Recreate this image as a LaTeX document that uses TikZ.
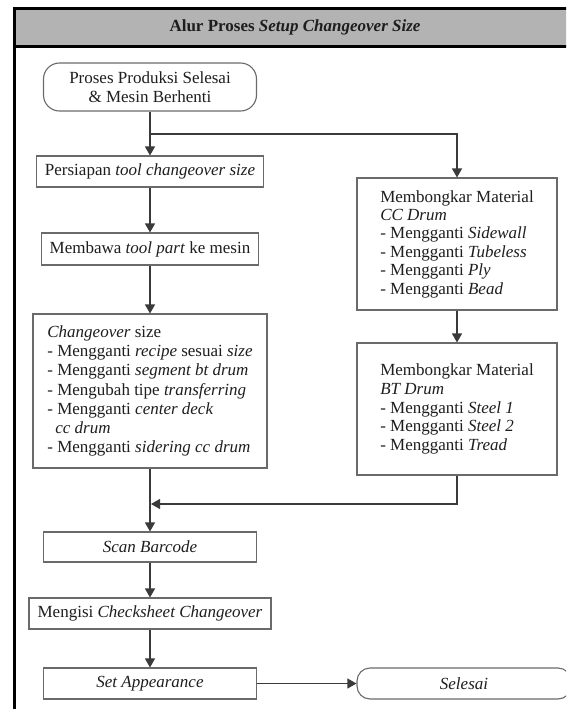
\documentclass[tikz,border=0pt]{standalone}
\usepackage{fontspec}
\setmainfont{Liberation Serif}
\usetikzlibrary{arrows.meta}
\definecolor{linec}{HTML}{3A3A3A}
\definecolor{boxc}{HTML}{6A6A6A}
\definecolor{headc}{HTML}{B3B3B3}
\definecolor{txtc}{HTML}{1E1E1E}
\tikzset{
  box/.style={draw=boxc,line width=1.1pt,fill=white,rectangle,inner xsep=8pt,inner ysep=0pt,
    text=txtc,font=\fontsize{17}{19.2}\selectfont},
  term/.style={box,rounded corners=16pt},
  flow/.style={draw=linec,line width=1.1pt,-{Triangle[length=9pt,width=10pt]}},
  link/.style={draw=linec,line width=1.1pt},
}
\begin{document}
\begin{tikzpicture}[x=1pt,y=-1pt]
\useasboundingbox (0,0) rectangle (566,709);
\clip (0,0) rectangle (566,709);
% frame and header
\fill[white] (0,0) rectangle (566,709);
\fill[headc] (14,9) rectangle (570,47);
\draw[black,line width=2.8pt] (14.5,8.7) -- (570,8.7);
\draw[black,line width=3pt] (14.5,47) -- (570,47);
\draw[black,line width=3pt] (14.5,7.3) -- (14.5,712);
\node[text=txtc,font=\fontsize{17}{19.2}\selectfont] (title) at (295,27)
  {\textbf{Alur Proses \textit{Setup Changeover Size}}};
% left column
\node[term,minimum width=213pt,minimum height=48pt,align=center] (start) at (150,87)
  {Proses Produksi Selesai\\\& Mesin Berhenti};
\node[box,minimum width=227pt,minimum height=31pt] (b1) at (150,171.5)
  {Persiapan \textit{tool changeover size}};
\node[box,minimum width=213pt,minimum height=32pt] (b2) at (150,249)
  {Membawa \textit{tool part} ke mesin};
\node[box,minimum width=234pt,minimum height=154pt,align=left] (b3) at (150,391)
  {\textit{Changeover} size\\
   - Mengganti \textit{recipe} sesuai \textit{size}\\
   - Mengganti \textit{segment bt drum}\\
   - Mengubah tipe \textit{transferring}\\
   - Mengganti \textit{center deck}\\
   \hspace*{8pt}\textit{cc drum}\\
   - Mengganti \textit{sidering cc drum}};
% right column
\node[box,minimum width=200pt,minimum height=132pt,align=left,
  font=\fontsize{17}{18.4}\selectfont] (r1) at (457,244)
  {Membongkar Material\\
   \textit{CC Drum}\\
   - Mengganti \textit{Sidewall}\\
   - Mengganti \textit{Tubeless}\\
   - Mengganti \textit{Ply}\\
   - Mengganti \textit{Bead}};
\node[box,minimum width=200pt,minimum height=132pt,align=left,
  font=\fontsize{17}{18.8}\selectfont] (r2) at (457,409)
  {Membongkar Material\\
   \textit{BT Drum}\\
   - Mengganti \textit{Steel 1}\\
   - Mengganti \textit{Steel 2}\\
   - Mengganti \textit{Tread}};
% bottom
\node[box,minimum width=213pt,minimum height=30pt] (scan) at (150,547)
  {\textit{Scan Barcode}};
\node[box,minimum width=242pt,minimum height=31pt] (check) at (150,613.5)
  {Mengisi \textit{Checksheet Changeover}};
\node[box,minimum width=213pt,minimum height=31pt] (setapp) at (150,683.5)
  {\textit{Set Appearance}};
\node[term,rounded corners=13pt,minimum width=214pt,minimum height=31pt] (selesai) at (464,683.5)
  {\textit{Selesai}};
% connectors
\coordinate (split) at (150,134);
\coordinate (merge) at (151,504);
\draw[flow] (start.south) -- (b1.north);
\draw[flow] (split) -| (r1.north);
\draw[flow] (b1.south) -- (b2.north);
\draw[flow] (b2.south) -- (b3.north);
\draw[flow] (r1.south) -- (r2.north);
\draw[flow] (r2.south) |- (merge);
\draw[flow] (b3.south) -- (scan.north);
\draw[flow] (scan.south) -- (check.north);
\draw[flow] (check.south) -- (setapp.north);
\draw[flow] (setapp.east) -- (selesai.west);
\end{tikzpicture}
\end{document}
